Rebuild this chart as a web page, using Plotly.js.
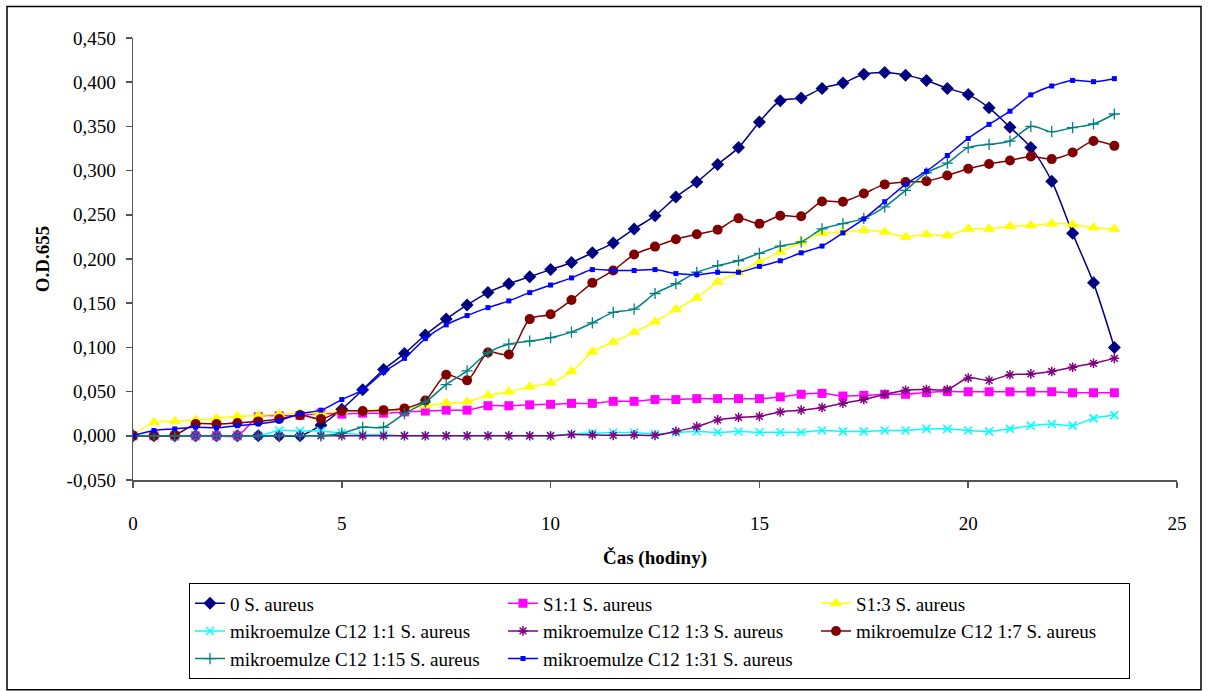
<!DOCTYPE html>
<html>
<head>
<meta charset="utf-8">
<script src="https://cdn.plot.ly/plotly-3.0.1.min.js"></script>
<style>
  html, body { margin: 0; padding: 0; background: #fff; }
  #chart { width: 1208px; height: 691px; }
</style>
</head>
<body>
<div id="chart"></div>
<script>
const hours = [0,0.5,1,1.5,2,2.5,3,3.5,4,4.5,5,5.5,6,6.5,7,7.5,8,8.5,9,9.5,10,10.5,11,11.5,12,12.5,13,13.5,14,14.5,15,15.5,16,16.5,17,17.5,18,18.5,19,19.5,20,20.5,21,21.5,22,22.5,23,23.5];

const seriesNames = [
  "0 S. aureus",
  "S1:1 S. aureus",
  "S1:3 S. aureus",
  "mikroemulze C12 1:1 S. aureus",
  "mikroemulze C12 1:3 S. aureus",
  "mikroemulze C12 1:7 S. aureus",
  "mikroemulze C12 1:15 S. aureus",
  "mikroemulze C12 1:31 S. aureus"
];

const s0 = [0,0,0,0,0,0,0,0,0,0.012,0.030,0.052,0.075,0.093,0.114,0.132,0.148,0.162,0.172,0.180,0.188,0.196,0.207,0.218,0.234,0.249,0.270,0.287,0.307,0.326,0.355,0.379,0.382,0.393,0.399,0.409,0.411,0.408,0.402,0.393,0.386,0.371,0.349,0.326,0.288,0.229,0.173,0.100];
const s11 = [0,0,0,0,0,0,0.0215,0.0226,0.023,0.0256,0.0245,0.0256,0.0256,0.027,0.028,0.029,0.029,0.034,0.034,0.035,0.0356,0.0367,0.0367,0.039,0.039,0.041,0.041,0.042,0.042,0.042,0.042,0.044,0.047,0.048,0.045,0.0457,0.047,0.047,0.049,0.050,0.0498,0.0498,0.0498,0.0498,0.0498,0.0487,0.0487,0.0487];
const s13 = [0,0.0152,0.0163,0.018,0.0197,0.022,0.023,0.0245,0.0256,0.026,0.0275,0.029,0.029,0.031,0.034,0.037,0.0386,0.0457,0.0498,0.0554,0.060,0.0727,0.095,0.106,0.117,0.129,0.143,0.156,0.174,0.185,0.197,0.208,0.219,0.229,0.2306,0.2324,0.2306,0.225,0.228,0.2265,0.234,0.234,0.237,0.238,0.240,0.239,0.2354,0.234];
const c1 = [0,0,0,0,0,0,0,0.006,0.0055,0.0055,0.003,0.0015,0.0015,0,0,0,0,0,0,0,0,0.002,0.003,0.0037,0.0037,0.002,0.0037,0.0048,0.004,0.0048,0.004,0.004,0.004,0.006,0.005,0.005,0.006,0.006,0.0078,0.0078,0.006,0.005,0.0078,0.0115,0.0134,0.0115,0.0197,0.0234];
const c3 = [0,0,0,0,0,0,0,0,0,0,0,0,0,0,0,0,0,0,0,0,0,0.0015,0.001,0.0005,0.001,0.0005,0.005,0.0104,0.018,0.0208,0.022,0.027,0.029,0.032,0.0368,0.041,0.0468,0.0516,0.0524,0.0524,0.0654,0.0627,0.069,0.070,0.0727,0.0776,0.082,0.0876];
const c7 = [0,0,0.001,0.0134,0.0134,0.0145,0.0163,0.019,0.0234,0.019,0.028,0.028,0.029,0.031,0.040,0.069,0.0627,0.0943,0.092,0.132,0.1375,0.1537,0.173,0.187,0.205,0.214,0.2224,0.228,0.2332,0.246,0.240,0.249,0.2484,0.265,0.2648,0.274,0.2844,0.287,0.288,0.2944,0.302,0.3074,0.3115,0.316,0.313,0.3204,0.3334,0.328];
const c15 = [0,0,0,0,0,0,0,0,0,0,0.003,0.0097,0.0097,0.025,0.038,0.058,0.0735,0.094,0.1036,0.107,0.111,0.1173,0.1277,0.1396,0.1433,0.161,0.172,0.185,0.1924,0.198,0.2064,0.2146,0.2194,0.234,0.240,0.246,0.259,0.2777,0.2974,0.3085,0.326,0.3297,0.3334,0.350,0.344,0.3486,0.3527,0.364];
const c31 = [0,0.006,0.0078,0.0097,0.009,0.0115,0.0134,0.017,0.025,0.029,0.041,0.052,0.072,0.0876,0.110,0.1255,0.136,0.145,0.1526,0.162,0.1705,0.1786,0.188,0.187,0.187,0.188,0.1835,0.1823,0.185,0.185,0.1916,0.198,0.207,0.2146,0.2295,0.2454,0.2648,0.2844,0.2993,0.3171,0.3364,0.3523,0.3672,0.3857,0.3957,0.402,0.4006,0.404];

const yTickVals = [-0.05,0,0.05,0.1,0.15,0.2,0.25,0.3,0.35,0.4,0.45];
const yTickText = yTickVals.map(v => (v < 0 ? "-" : "") + Math.abs(v).toFixed(3).replace(".", ","));
const xTickVals = [0,5,10,15,20,25];

const seriesValues = [s0, s11, s13, c1, c3, c7, c15, c31];
const styles = [
  {color: "#000080", symbol: "diamond", size: 10},
  {color: "#FF00FF", symbol: "square", size: 9},
  {color: "#FFFF00", symbol: "triangle-up", size: 11},
  {color: "#00FFFF", symbol: "x-thin-open", size: 8, lw: 1.5},
  {color: "#800080", symbol: "asterisk-open", size: 8, lw: 1.5},
  {color: "#800000", symbol: "circle", size: 10},
  {color: "#008080", symbol: "cross-thin-open", size: 8, lw: 1.3},
  {color: "#0000FF", symbol: "square", size: 5}
];

const serif = "Liberation Serif";

const traces = seriesValues.map((vals, i) => ({
  type: "scatter",
  mode: "lines+markers",
  name: seriesNames[i],
  x: hours,
  y: vals,
  line: {color: styles[i].color, width: 1.5, shape: "spline", smoothing: 0.8},
  marker: {
    color: styles[i].color,
    symbol: styles[i].symbol,
    size: styles[i].size,
    line: {color: styles[i].color, width: styles[i].lw || 0}
  }
}));

const L = 133, R = 1177, T = 38, B = 487;
const pw = R - L, ph = B - T;
const px = v => (v - L) / pw;
const py = v => (B - v) / ph;

const layout = {
  width: 1208,
  height: 691,
  margin: {l: L, r: 1208 - R, t: T, b: 691 - B},
  paper_bgcolor: "#fff",
  plot_bgcolor: "#fff",
  showlegend: true,
  font: {family: serif, size: 19, color: "#000"},
  xaxis: {
    range: [0, 25],
    tickvals: xTickVals,
    ticktext: xTickVals.map(String),
    showgrid: false,
    zeroline: false,
    showline: true,
    linecolor: "#555",
    linewidth: 1.5,
    ticks: "outside",
    ticklen: 6,
    tickwidth: 1.5,
    tickcolor: "#555",
    ticklabelstandoff: 20,
    tickfont: {family: serif, size: 19, color: "#000"},
    title: {text: "<b>Čas (hodiny)</b>", font: {family: serif, size: 19, color: "#000"}, standoff: 17}
  },
  yaxis: {
    range: [-0.05, 0.45],
    tickvals: yTickVals,
    ticktext: yTickText,
    showgrid: false,
    zeroline: false,
    showline: true,
    linecolor: "#555",
    linewidth: 1.5,
    ticks: "outside",
    ticklen: 6,
    tickwidth: 1.5,
    tickcolor: "#555",
    ticklabelstandoff: 6,
    tickfont: {family: serif, size: 19, color: "#000"},
    title: {text: "<b>O.D.655</b>", font: {family: serif, size: 19, color: "#000"}, standoff: 12}
  },
  legend: {
    orientation: "h",
    x: px(189),
    xanchor: "left",
    y: py(592),
    yanchor: "top",
    bgcolor: "#fff",
    bordercolor: "#000",
    borderwidth: 1,
    entrywidth: 268,
    entrywidthmode: "pixels",
    traceorder: "normal",
    font: {family: serif, size: 19, color: "#000"}
  },
  shapes: [{
    type: "rect", xref: "paper", yref: "paper",
    x0: px(7), x1: px(1201), y0: py(700), y1: py(6),
    line: {color: "#000", width: 1.5},
    fillcolor: "rgba(0,0,0,0)",
    layer: "below"
  }]
};

Plotly.newPlot("chart", traces, layout, {staticPlot: true, displayModeBar: false});
</script>
</body>
</html>
